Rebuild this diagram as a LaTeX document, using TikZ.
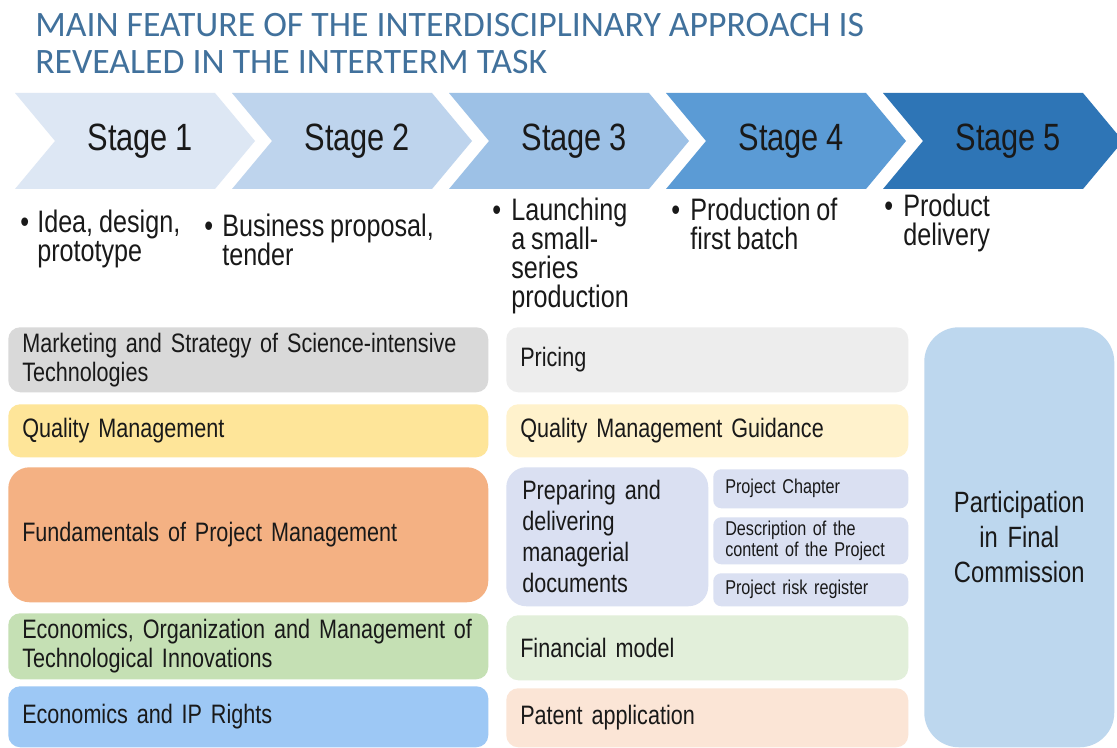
\documentclass[tikz,border=0pt]{standalone}
\usepackage{fontspec}
\newfontfamily\arfraw{Liberation Sans}[FakeStretch=0.81]
\newcommand\arf{\arfraw\spaceskip=0.19em plus 0.02em minus 0.02em\relax}
\newfontfamily\ttlf{Carlito}
\definecolor{ttl}{RGB}{65,113,156}
\definecolor{txt}{RGB}{25,25,25}
\definecolor{ch1}{RGB}{221,231,244}
\definecolor{ch2}{RGB}{190,212,237}
\definecolor{ch3}{RGB}{157,193,230}
\definecolor{ch4}{RGB}{91,155,213}
\definecolor{ch5}{RGB}{46,117,182}
\definecolor{cgray}{RGB}{217,217,217}
\definecolor{cyel}{RGB}{254,229,153}
\definecolor{corg}{RGB}{244,177,131}
\definecolor{cgrn}{RGB}{197,224,180}
\definecolor{cblu}{RGB}{157,200,245}
\definecolor{lgray}{RGB}{237,237,237}
\definecolor{lyel}{RGB}{255,242,204}
\definecolor{lpur}{RGB}{218,224,242}
\definecolor{lgrn}{RGB}{226,239,218}
\definecolor{lorg}{RGB}{251,229,214}
\definecolor{lblu}{RGB}{189,215,238}
\tikzset{
  boxstyle/.style={draw=none, anchor=north west, rounded corners=9pt, align=left,
    inner ysep=0pt, text=txt, font={\fontsize{20pt}{21.75pt}\selectfont\arf}},
  stagetext/.style={text=txt, font={\fontsize{28.5pt}{30pt}\selectfont\arf}},
  bultext/.style={anchor=base west, align=left, inner sep=0pt, text=txt,
    font={\fontsize{23.3pt}{21.75pt}\selectfont\arf}},
  smalltext/.style={draw=none, anchor=north west, rounded corners=6pt, align=left,
    inner ysep=0pt, inner xsep=9pt, text=txt, fill=lpur,
    font={\fontsize{15pt}{15.75pt}\selectfont\arf}}
}
\begin{document}
\begin{tikzpicture}[x=0.75pt,y=-0.75pt]
\useasboundingbox (0,0) rectangle (1117,748);
\clip (0,0) rectangle (1117,748);
\fill[white] (0,0) rectangle (1117,748);
% title (base = last line)
\node[anchor=base west, align=left, inner sep=0pt, text=ttl,
  font={\ttlf\fontsize{26.8pt}{27.75pt}\selectfont}] (title) at (35,74)
  {MAIN FEATURE OF THE INTERDISCIPLINARY APPROACH IS\\REVEALED IN THE INTERTERM TASK};
% chevrons
\foreach \i/\c in {0/ch1,1/ch2,2/ch3,3/ch4,4/ch5}{
  \pgfmathsetmacro{\L}{15+217*\i}
  \fill[\c] (\L,93) -- (\L+200,93) -- (\L+240,141) -- (\L+200,189) -- (\L,189) -- (\L+40,141) -- cycle;
}
\node[stagetext] (s1) at (140,141) {Stage 1};
\node[stagetext] (s2) at (357,141) {Stage 2};
\node[stagetext] (s3) at (574,141) {Stage 3};
\node[stagetext] (s4) at (791,141) {Stage 4};
\node[stagetext] (s5) at (1008,141) {Stage 5};
% bullets (text nodes anchored at the baseline of their last line)
\node[bultext] (b1) at (20,233) {•};
\node[bultext] (t1) at (37,262) {Idea, design,\\prototype};
\node[bultext] (b2) at (204,237) {•};
\node[bultext] (t2) at (222,266) {Business proposal,\\tender};
\node[bultext] (b3) at (492,221) {•};
\node[bultext] (t3) at (511,308) {Launching\\a small-\\series\\production};
\node[bultext] (b4) at (671,221) {•};
\node[bultext] (t4) at (690,250) {Production of\\first batch};
\node[bultext] (b5) at (884,217) {•};
\node[bultext] (t5) at (903,246) {Product\\delivery};
% left column
\node[boxstyle, fill=cgray, minimum width=360pt, text width=339pt, inner xsep=10.5pt, minimum height=48.75pt] (l1) at (8,327) {Marketing and Strategy of Science-intensive\\Technologies};
\node[boxstyle, fill=cyel, minimum width=360pt, text width=339pt, inner xsep=10.5pt, minimum height=39.75pt] (l2) at (8,404) {Quality Management};
\node[boxstyle, fill=corg, rounded corners=16pt, minimum width=360pt, text width=339pt, inner xsep=10.5pt, minimum height=101.25pt] (l3) at (8,467) {Fundamentals of Project Management};
\node[boxstyle, fill=cgrn, minimum width=360pt, text width=339pt, inner xsep=10.5pt, minimum height=49.5pt] (l4) at (8,613) {Economics, Organization and Management of\\Technological Innovations};
\node[boxstyle, fill=cblu, minimum width=360pt, text width=339pt, inner xsep=10.5pt, minimum height=45.75pt] (l5) at (8,686) {Economics and IP Rights};
% middle column
\node[boxstyle, fill=lgray, text width=280.5pt, inner xsep=10.5pt, minimum height=48.75pt] (m1) at (506,327) {Pricing};
\node[boxstyle, fill=lyel, text width=280.5pt, inner xsep=10.5pt, minimum height=39.75pt] (m2) at (506,404) {Quality Management Guidance};
\node[boxstyle, fill=lpur, rounded corners=15pt, text width=127.5pt, inner xsep=12pt, minimum height=104.25pt, font={\fontsize{20pt}{23.25pt}\selectfont\arf}] (m3) at (506,467) {Preparing and\\delivering\\managerial\\documents};
\node[smalltext, text width=128.25pt, minimum height=29.25pt] (p1) at (713,469) {Project Chapter};
\node[smalltext, text width=128.25pt, minimum height=35.25pt] (p2) at (713,517) {Description of the\\content of the Project};
\node[smalltext, text width=128.25pt, minimum height=24.75pt] (p3) at (713,573) {Project risk register};
\node[boxstyle, fill=lgrn, text width=280.5pt, inner xsep=10.5pt, minimum height=48.75pt] (m4) at (506,615) {Financial model};
\node[boxstyle, fill=lorg, text width=280.5pt, inner xsep=10.5pt, minimum height=44.25pt] (m5) at (506,688) {Patent application};
% right column
\node[boxstyle, fill=lblu, rounded corners=26pt, align=center, text width=142.5pt, inner xsep=0pt, minimum height=315pt, font={\fontsize{22pt}{26.25pt}\selectfont\arf}] (r1) at (924,327) {Participation\\in Final\\Commission};
\end{tikzpicture}
\end{document}
